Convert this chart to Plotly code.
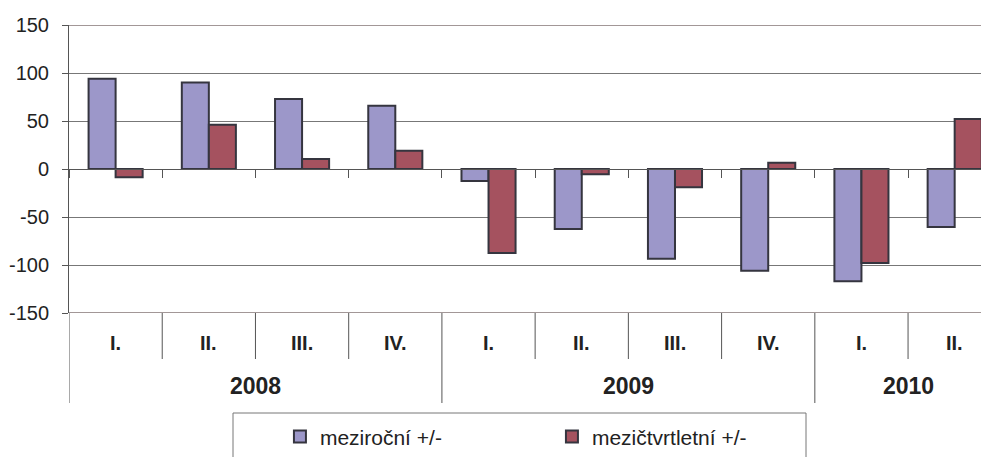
import plotly.graph_objects as go

years = ["2008"] * 4 + ["2009"] * 4 + ["2010"] * 2
quarters = ["I.", "II.", "III.", "IV.", "I.", "II.", "III.", "IV.", "I.", "II."]
mezirocni = [94, 90, 73, 66, -12.5, -62.5, -93.5, -106, -117, -60.5]
mezictvrtletni = [-8.5, 46, 10.5, 19, -87.5, -5.5, -19, 6.5, -98, 52]
series_names = ["meziroční +/-", "mezičtvrtletní +/-"]
y_ticks = [-150, -100, -50, 0, 50, 100, 150]
y_tick_labels = ["-150", "-100", "-50", "0", "50", "100", "150"]

FONT = "Liberation Sans, Arial, sans-serif"
AXC = "#555555"
n = len(quarters)
xs = list(range(n))

fig = go.Figure()
fig.add_trace(go.Bar(x=xs, y=mezirocni, name=series_names[0],
                     marker=dict(color="#9c97c9", line=dict(color="#35353f", width=2))))
fig.add_trace(go.Bar(x=xs, y=mezictvrtletni, name=series_names[1],
                     marker=dict(color="#a5525f", line=dict(color="#35353f", width=2))))

shapes = []
# top / bottom borders
for yv in (y_ticks[0], y_ticks[-1]):
    shapes.append(dict(type="line", xref="paper", x0=0, x1=1, yref="y", y0=yv, y1=yv,
                       line=dict(color="#a29797", width=2), layer="above"))
# category separators below the plot
bounds = [-0.5] + [i + 0.5 for i in range(n - 1)]
for i, b in enumerate(bounds):
    long = (i == 0) or (years[i] != years[i - 1])
    shapes.append(dict(type="line", xref="x", x0=b, x1=b, yref="paper", ysizemode="pixel",
                       yanchor=0, y0=0, y1=-90 if long else -46,
                       line=dict(color=AXC, width=1)))
# legend frame
shapes.append(dict(type="rect", xref="paper", xsizemode="pixel", xanchor=0, x0=164, x1=737,
                   yref="paper", ysizemode="pixel", yanchor=0, y0=-100, y1=-160,
                   line=dict(color="#777777", width=1), fillcolor="rgba(0,0,0,0)"))

annotations = []
for i, q in enumerate(quarters):
    annotations.append(dict(x=i, xref="x", y=0, yref="paper", yshift=-30, text=q,
                            showarrow=False, yanchor="middle",
                            font=dict(family=FONT, size=20, color="#222222", weight="bold")))
seen = []
for yr in years:
    if yr not in seen:
        seen.append(yr)
for yr in seen:
    idx = [i for i, v in enumerate(years) if v == yr]
    cx = sum(idx) / len(idx)
    annotations.append(dict(x=cx, xref="x", y=0, yref="paper", yshift=-73, text=yr,
                            showarrow=False, yanchor="middle",
                            font=dict(family=FONT, size=23, color="#222222", weight="bold")))

fig.update_layout(
    width=989, height=457,
    margin=dict(l=61, r=0, t=17, b=152, autoexpand=False),
    paper_bgcolor="white", plot_bgcolor="white",
    barmode="group", bargap=0.42, bargroupgap=0,
    font=dict(family=FONT, size=20, color="#222222"),
    showlegend=True,
    legend=dict(orientation="h", x=0.2273, xanchor="left", y=-0.43, yanchor="middle",
                font=dict(family=FONT, size=21, color="#222222"),
                entrywidth=227, entrywidthmode="pixels", bgcolor="rgba(0,0,0,0)",
                borderwidth=0),
    shapes=shapes,
    annotations=annotations,
    xaxis=dict(type="linear", range=[-0.5, 9.454], tickvals=[b for b in bounds] + [n - 0.5],
               ticks="outside", ticklen=8, tickcolor=AXC, showticklabels=False,
               showgrid=False, zeroline=False, showline=True, linecolor=AXC, linewidth=1,
               anchor="free", position=0.5),
    yaxis=dict(range=[y_ticks[0], y_ticks[-1]], tickvals=y_ticks, ticktext=y_tick_labels,
               ticks="outside", ticklen=6,
               tickcolor=AXC, showline=True, linecolor=AXC, linewidth=1,
               gridcolor="#777777", gridwidth=1, zeroline=False,
               ticklabelstandoff=9, tickfont=dict(family=FONT, size=20, color="#222222")),
)
fig.write_html("out.html")
